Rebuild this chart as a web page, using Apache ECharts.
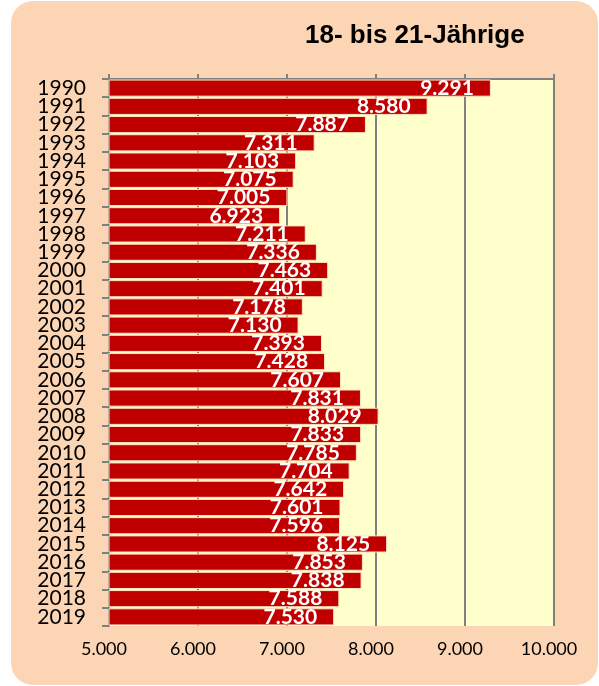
<!DOCTYPE html>
<html lang="de">
<head>
<meta charset="UTF-8">
<title>18- bis 21-Jährige</title>
<script src="https://cdn.jsdelivr.net/npm/echarts@6/dist/echarts.min.js"></script>
<style>
    html, body { margin: 0; padding: 0; background: #ffffff; }
    #box {
        position: absolute; left: 11px; top: 1px; width: 587px; height: 684px;
        background: #FCD5B4; border-radius: 22px;
    }
    #chart { position: absolute; left: 0; top: 0; width: 599px; height: 686px; }
</style>
</head>
<body>
<div id="box"></div>
<div id="chart"></div>
<script>
    // Jahre und Anzahl der 18- bis 21-Jährigen
    var years = ['1990', '1991', '1992', '1993', '1994', '1995', '1996', '1997', '1998', '1999',
        '2000', '2001', '2002', '2003', '2004', '2005', '2006', '2007', '2008', '2009',
        '2010', '2011', '2012', '2013', '2014', '2015', '2016', '2017', '2018', '2019'];
    var counts = [9291, 8580, 7887, 7311, 7103, 7075, 7005, 6923, 7211, 7336,
        7463, 7401, 7178, 7130, 7393, 7428, 7607, 7831, 8029, 7833,
        7785, 7704, 7642, 7601, 7596, 8125, 7853, 7838, 7588, 7530];
    var axisMin = 5000;
    var axisMax = 10000;
    var axisStep = 1000;

    function formatDe(v) {
        var s = String(Math.round(v));
        return s.replace(/\B(?=(\d{3})+(?!\d))/g, '.');
    }

    var chart = echarts.init(document.getElementById('chart'));
    var option = {
        animation: false,
        backgroundColor: 'transparent',
        title: {
            text: '18- bis 21-Jährige',
            left: 300,
            top: 18,
            textStyle: {
                fontFamily: 'Liberation Sans',
                fontWeight: 'bold',
                fontSize: 26,
                color: '#000000'
            }
        },
        grid: {
            left: 109,
            right: 45,
            top: 79,
            bottom: 60,
            show: true,
            backgroundColor: '#FFFFCC',
            borderWidth: 0
        },
        xAxis: [
            {
                type: 'value',
                position: 'bottom',
                min: axisMin,
                max: axisMax,
                interval: axisStep,
                axisLine: { show: false },
                axisTick: { show: false },
                splitLine: { show: true, lineStyle: { color: '#808080', width: 2 } },
                axisLabel: {
                    margin: 14,
                    fontFamily: 'Lato',
                    fontSize: 18,
                    color: '#000000',
                    padding: [0, 10, 0, 0],
                    formatter: formatDe
                }
            },
            {
                type: 'value',
                position: 'top',
                min: axisMin,
                max: axisMax,
                interval: axisStep,
                axisLine: { show: true, onZero: false, lineStyle: { color: '#808080', width: 2 } },
                axisTick: { show: true, inside: false, length: 5, lineStyle: { color: '#808080', width: 2 } },
                splitLine: { show: false },
                axisLabel: { show: false }
            }
        ],
        yAxis: {
            type: 'category',
            data: years,
            inverse: true,
            axisLine: { show: true, onZero: false, lineStyle: { color: '#808080', width: 2 } },
            axisTick: { show: true, length: 7, interval: 0, lineStyle: { color: '#808080', width: 2 } },
            axisLabel: {
                interval: 0,
                margin: 23,
                fontFamily: 'Lato',
                fontSize: 21,
                color: '#000000',
                lineHeight: 18
            }
        },
        series: [
            {
                type: 'bar',
                data: counts,
                barCategoryGap: '6%',
                itemStyle: {
                    color: '#C00000',
                    borderColor: '#FFE6C0',
                    borderWidth: 1
                },
                label: {
                    show: true,
                    position: 'insideRight',
                    distance: 17,
                    color: '#ffffff',
                    fontFamily: 'Lato',
                    fontWeight: 'bold',
                    fontSize: 21,
                    lineHeight: 18,
                    formatter: function (p) { return formatDe(p.value); }
                }
            }
        ]
    };
    chart.setOption(option);
</script>
</body>
</html>
